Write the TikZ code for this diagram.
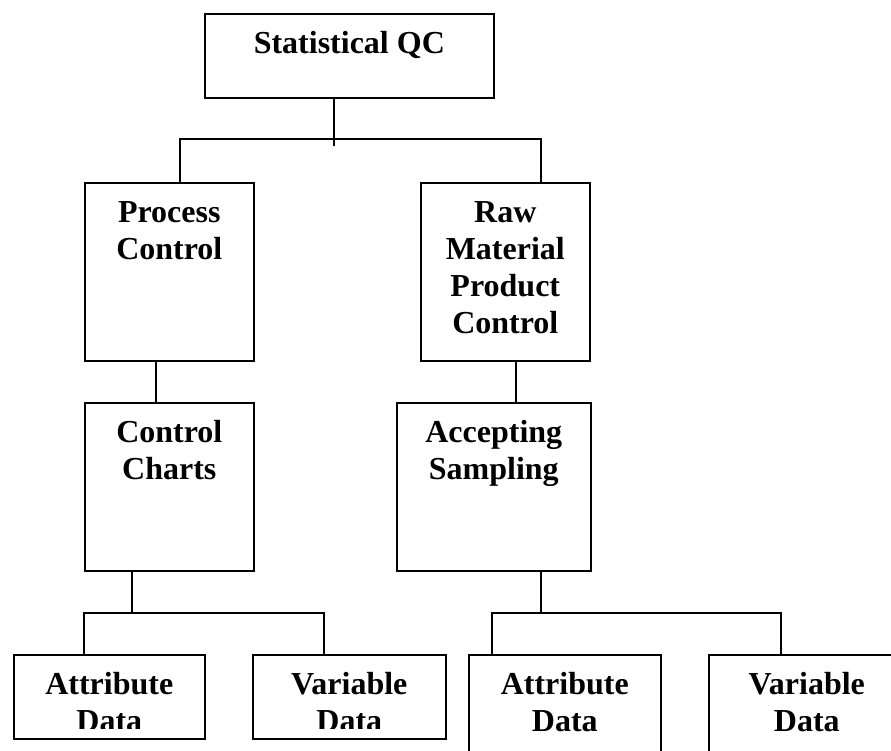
\documentclass[tikz,border=0pt]{standalone}
\usepackage{fontspec}
\setmainfont{Liberation Serif}
\tikzset{
  box/.style={draw, line width=1.6pt, inner sep=0pt, anchor=north west},
  lbl/.style={font=\bfseries\fontsize{32}{37}\selectfont, align=center, anchor=north, inner sep=0pt},
  conn/.style={line width=1.6pt}
}
\newcommand{\fl}{\rule{0pt}{25pt}}
\begin{document}
\begin{tikzpicture}[x=1pt,y=-1pt]
\useasboundingbox (0,0) rectangle (891,751);
\clip (0,0) rectangle (891,751);
\fill[white] (0,0) rectangle (891,751);
% boxes
\node[box, minimum width=289pt, minimum height=84pt]  (sqc) at (204,13) {};
\node[box, minimum width=169pt, minimum height=178pt] (pc)  at (84,182) {};
\node[box, minimum width=169pt, minimum height=178pt] (rm)  at (420,182) {};
\node[box, minimum width=169pt, minimum height=168pt] (cc)  at (84,402) {};
\node[box, minimum width=194pt, minimum height=168pt] (as)  at (396,402) {};
\node[box, minimum width=191pt, minimum height=84pt]  (ad1) at (13,654) {};
\node[box, minimum width=193pt, minimum height=84pt]  (vd1) at (252,654) {};
\node[box, minimum width=192pt, minimum height=130pt] (ad2) at (468,654) {};
\node[box, minimum width=196pt, minimum height=130pt] (vd2) at (708,654) {};
% labels
\node[lbl] (sqcT) at ([yshift=-15pt]sqc.north) {\fl Statistical QC};
\node[lbl] (pcT)  at ([yshift=-15pt]pc.north)  {\fl Process\\Control};
\node[lbl] (rmT)  at ([yshift=-15pt]rm.north)  {\fl Raw\\Material\\Product\\Control};
\node[lbl] (ccT)  at ([yshift=-15pt]cc.north)  {\fl Control\\Charts};
\node[lbl] (asT)  at ([yshift=-15pt]as.north)  {\fl Accepting\\Sampling};
\begin{scope}
\clip (0,0) rectangle (450,728);
\node[lbl] (ad1T) at ([yshift=-15pt]ad1.north) {\fl Attribute\\Data};
\node[lbl] (vd1T) at ([yshift=-15pt]vd1.north) {\fl Variable\\Data};
\end{scope}
\node[lbl] (ad2T) at ([yshift=-15pt]ad2.north) {\fl Attribute\\Data};
\node[lbl] (vd2T) at ([yshift=-15pt]vd2.north) {\fl Variable\\Data};
% junction coordinates
\coordinate (j0) at (334,139);
\coordinate (jl) at (180,139);
\coordinate (jr) at (541,139);
\coordinate (k1) at (156,381);
\coordinate (k2) at (516,381);
\coordinate (b0) at (132,613);
\coordinate (bl) at (84,613);
\coordinate (br) at (324,613);
\coordinate (c0) at (541,613);
\coordinate (cl) at (492,613);
\coordinate (cr) at (781,613);
% connectors
\draw[conn] (sqc.south -| j0) -- ([yshift=-7pt]j0);
\draw[conn] (pc.north -| jl) -- (jl) -- (jr) -- (rm.north -| jr);
\draw[conn] (pc.south -| k1) -- (cc.north -| k1);
\draw[conn] (rm.south -| k2) -- (as.north -| k2);
\draw[conn] (cc.south -| b0) -- (b0);
\draw[conn] (ad1.north -| bl) -- (bl) -- (br) -- (vd1.north -| br);
\draw[conn] (as.south -| c0) -- (c0);
\draw[conn] (ad2.north -| cl) -- (cl) -- (cr) -- (vd2.north -| cr);
\end{tikzpicture}
\end{document}
